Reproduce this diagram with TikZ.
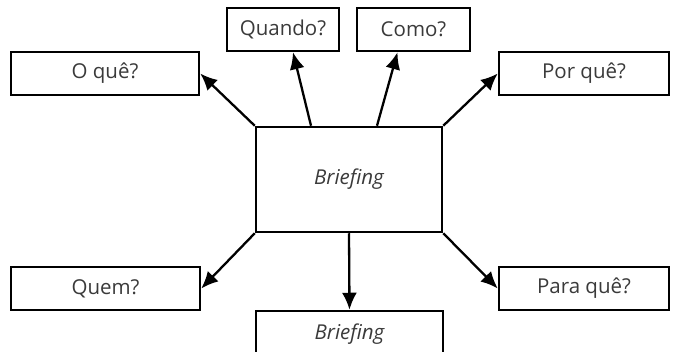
\documentclass[tikz,border=0pt]{standalone}
\usepackage{fontspec}
\setmainfont{Open Sans}
\usetikzlibrary{arrows.meta}
\definecolor{txt}{HTML}{3A3A3A}
\begin{document}
\begin{tikzpicture}[x=1pt,y=-1pt,
  qbox/.style={draw, line width=2.5pt, minimum height=43pt, inner sep=0pt, text=txt, font=\fontsize{20.5}{24}\selectfont},
  link/.style={line width=2.3pt, -{Latex[length=17pt,width=15pt]}}]
\useasboundingbox (0,0) rectangle (679,352);
% central box
\node[qbox, minimum width=186pt, minimum height=105pt, font=\fontsize{20.5}{24}\selectfont\itshape] (brief) at (349,179.5) {Briefing};
% question boxes
\node[qbox, minimum width=188pt] (oque) at (105,73.5) {O quê?};
\node[qbox, minimum width=112pt] (quando) at (283,29.5) {Quando?};
\node[qbox, minimum width=113pt] (como) at (413.5,29.5) {Como?};
\node[qbox, minimum width=170pt] (porque) at (584,73.5) {Por quê?};
\node[qbox, minimum width=189pt] (quem) at (105.5,288.5) {Quem?};
\node[qbox, minimum width=170pt] (paraque) at (584,288.5) {Para quê?};
% lower box runs past the bottom edge of the page
\node[qbox, minimum width=187pt, minimum height=46pt, font=\fontsize{20.5}{24}\selectfont\itshape] (brief2) at (349.5,334) {Briefing};
% connectors
\draw[link] (brief.north west) -- (oque.east);
\draw[link] ([xshift=-38pt]brief.north) -- ([xshift=10pt]quando.south);
\draw[link] ([xshift=28pt]brief.north) -- ([xshift=-16pt]como.south);
\draw[link] (brief.north east) -- (porque.west);
\draw[link] (brief.south west) -- (quem.east);
\draw[link] (brief.south east) -- (paraque.west);
\draw[link] (brief.south) -- (brief2.north);
\end{tikzpicture}
\end{document}
